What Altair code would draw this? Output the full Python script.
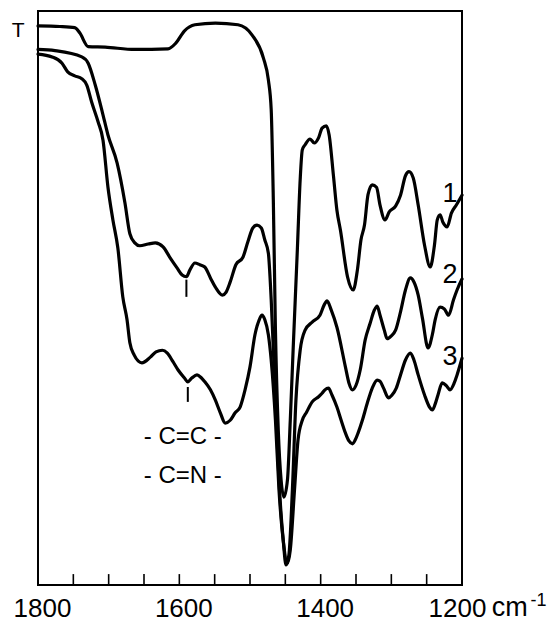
import altair as alt
import pandas as pd

# Infrared transmission spectra, wavenumber (cm-1) vs. transmittance T (arbitrary %)
wn1 = [1800, 1769, 1748, 1741, 1729, 1705, 1663, 1616, 1605, 1593,
       1578, 1549, 1517, 1497, 1481, 1474, 1470, 1467, 1464, 1460,
       1456, 1452, 1447, 1443, 1439, 1433, 1429, 1426, 1422, 1415,
       1409, 1403, 1398, 1392, 1388, 1382, 1377, 1372, 1362, 1354,
       1348, 1343, 1338, 1333, 1327, 1321, 1316, 1309, 1303, 1294,
       1287, 1280, 1275, 1269, 1262, 1253, 1245, 1239, 1235, 1231,
       1227, 1221, 1215, 1208, 1200]
t1 = [97.4, 97.3, 97.1, 96.2, 93.8, 93.7, 93.3, 93.4, 94.4, 96.5,
      97.6, 97.9, 97.6, 95.8, 91.8, 88.0, 82.8, 67.1, 44.4, 27.0,
      18.3, 15.3, 18.3, 28.7, 40.9, 58.4, 70.6, 75.8, 76.7, 77.7,
      77.0, 77.9, 79.6, 80.0, 78.4, 71.4, 65.3, 61.8, 53.7, 51.4,
      54.9, 60.1, 62.7, 68.0, 69.7, 69.3, 66.2, 63.6, 65.0, 66.0,
      67.9, 71.3, 72.0, 70.9, 66.2, 59.2, 55.4, 59.2, 63.6, 64.5,
      63.2, 62.4, 64.8, 66.2, 67.9]

wn2 = [1800, 1776, 1738, 1729, 1719, 1709, 1701, 1688, 1677, 1670,
       1663, 1656, 1644, 1634, 1623, 1613, 1603, 1596, 1590, 1585,
       1578, 1571, 1564, 1556, 1549, 1539, 1534, 1528, 1520, 1510,
       1503, 1496, 1490, 1484, 1479, 1474, 1470, 1464, 1459, 1453,
       1449, 1445, 1440, 1435, 1429, 1422, 1412, 1401, 1395, 1391,
       1385, 1377, 1365, 1360, 1355, 1350, 1344, 1337, 1330, 1324,
       1320, 1316, 1310, 1306, 1300, 1294, 1287, 1280, 1273, 1268,
       1262, 1256, 1248, 1242, 1238, 1231, 1225, 1219, 1212, 1207,
       1200]
t2 = [93.3, 93.1, 92.0, 90.9, 87.1, 82.4, 78.4, 73.5, 66.6, 61.2,
      59.6, 59.1, 59.4, 59.6, 58.9, 57.0, 55.2, 54.0, 53.7, 54.9,
      56.1, 55.8, 55.4, 53.5, 51.9, 50.5, 51.0, 52.8, 55.8, 57.1,
      59.8, 62.2, 62.7, 62.2, 60.1, 57.8, 49.7, 32.2, 18.3, 7.8,
      3.5, 5.2, 16.6, 32.2, 40.9, 44.4, 45.8, 47.0, 48.8, 49.5,
      47.9, 44.9, 38.0, 35.2, 34.0, 34.8, 37.5, 42.7, 45.6, 47.9,
      48.6, 47.0, 44.4, 42.9, 43.4, 44.4, 47.6, 51.4, 53.5, 52.8,
      50.5, 46.5, 41.3, 43.6, 46.2, 48.4, 48.1, 47.0, 49.7, 51.4,
      53.3]

wn3 = [1800, 1780, 1766, 1758, 1748, 1738, 1731, 1724, 1715, 1708,
       1701, 1694, 1687, 1680, 1674, 1670, 1664, 1658, 1653, 1641,
       1633, 1624, 1617, 1609, 1602, 1593, 1588, 1582, 1575, 1569,
       1564, 1556, 1549, 1542, 1535, 1528, 1521, 1514, 1507, 1500,
       1493, 1487, 1483, 1479, 1474, 1470, 1464, 1459, 1453, 1447,
       1443, 1437, 1432, 1426, 1420, 1412, 1403, 1398, 1394, 1389,
       1384, 1377, 1371, 1365, 1360, 1355, 1351, 1347, 1341, 1334,
       1327, 1320, 1316, 1311, 1304, 1299, 1293, 1287, 1280, 1273,
       1268, 1262, 1253, 1246, 1242, 1238, 1234, 1228, 1222, 1217,
       1211, 1207, 1200]
t3 = [92.5, 92.0, 90.9, 89.4, 88.7, 88.2, 87.1, 84.1, 80.7, 77.5,
      69.3, 63.6, 58.7, 50.2, 46.2, 42.2, 40.1, 39.0, 38.7, 39.7,
      40.6, 40.9, 40.4, 38.9, 37.5, 36.1, 35.4, 36.1, 36.6, 36.1,
      35.4, 34.0, 32.2, 30.0, 28.2, 28.7, 30.0, 31.0, 34.0, 38.0,
      43.6, 46.2, 47.0, 46.2, 43.6, 39.2, 28.7, 16.6, 7.8, 3.8,
      6.1, 16.6, 25.3, 28.7, 30.1, 31.9, 32.8, 33.4, 34.0, 34.3,
      33.1, 31.0, 28.7, 26.5, 25.1, 24.6, 25.3, 26.5, 28.7, 31.7,
      34.3, 35.7, 35.5, 34.3, 32.6, 33.1, 34.3, 36.6, 39.2, 40.4,
      39.2, 36.6, 33.1, 31.0, 30.5, 31.5, 33.1, 35.2, 34.7, 34.0,
      35.2, 36.6, 39.5]

# axis: labelled wavenumbers and the inward minor ticks
axis_labels = [1800, 1600, 1400, 1200]
minor_ticks = [1750, 1700, 1650, 1600, 1550, 1500, 1450, 1400, 1350, 1300, 1250]

# curve numbers at the right end of each trace
curve_names = ["1", "2", "3"]
curve_label_wn = [1217, 1217, 1217]
curve_label_t = [66.7, 52.6, 38.3]

# band markers under the 1590 cm-1 shoulder of traces 2 and 3
marker_wn = [1590, 1588]
marker_top = [53.2, 34.5]
marker_bottom = [50.2, 31.9]

# group assignments written under the bands
groups = ["- C=C -", "- C=N -"]
group_wn = [1595, 1595]
group_t = [24.6, 17.8]

FONT = "Liberation Sans, Arial, Helvetica, sans-serif"

rows = []
for name, wns, ts in [("1", wn1, t1), ("2", wn2, t2), ("3", wn3, t3)]:
    rows += [{"wn": w, "T": v, "curve": name} for w, v in zip(wns, ts)]
spectra = pd.DataFrame(rows)

x_scale = alt.Scale(domain=[1200, 1800], reverse=True, nice=False, zero=False)
y_scale = alt.Scale(domain=[0, 100], nice=False, zero=False)

# one shared axis definition, used by every layer so that the merged axis keeps it;
# the last label is nudged left to leave room for the unit after it
x_axis = alt.Axis(
    values=axis_labels,
    title=None,
    ticks=False,
    tickSize=0,
    domain=False,
    grid=False,
    format="d",
    labelFont=FONT,
    labelFontSize=26,
    labelColor="black",
    labelBaseline="alphabetic",
    labelPadding=31,
    labelFlush=False,
    labelOverlap=False,
    labelOffset={"condition": {"test": "datum.value === 1200", "value": -5}, "value": 4},
)


def xy(xfield, yfield):
    return dict(
        x=alt.X(xfield, scale=x_scale, axis=x_axis),
        y=alt.Y(yfield, scale=y_scale, axis=None),
    )


lines = alt.Chart(spectra).mark_line(
    color="black", strokeWidth=3.2, interpolate="monotone",
    strokeJoin="round", strokeCap="round",
).encode(detail="curve:N", **xy("wn:Q", "T:Q"))

ticks = alt.Chart(pd.DataFrame({"wn": minor_ticks, "lo": 0.0, "hi": 1.9})).mark_rule(
    color="black", strokeWidth=1.6
).encode(y2="hi:Q", **xy("wn:Q", "lo:Q"))

markers = alt.Chart(pd.DataFrame({"wn": marker_wn, "top": marker_top, "bottom": marker_bottom})).mark_rule(
    color="black", strokeWidth=2
).encode(y2="bottom:Q", **xy("wn:Q", "top:Q"))

numbers = alt.Chart(pd.DataFrame({"wn": curve_label_wn, "T": curve_label_t, "label": curve_names})).mark_text(
    font=FONT, fontSize=27, color="black", align="center", baseline="alphabetic"
).encode(text="label:N", **xy("wn:Q", "T:Q"))

group_text = alt.Chart(pd.DataFrame({"wn": group_wn, "T": group_t, "label": groups})).mark_text(
    font=FONT, fontSize=24, color="black", align="center", baseline="alphabetic"
).encode(text="label:N", **xy("wn:Q", "T:Q"))

# ordinate name and the unit of the abscissa
t_label = alt.Chart(pd.DataFrame({"wn": [1828], "T": [95.5], "label": ["T"]})).mark_text(
    font=FONT, fontSize=21, color="black", align="center", baseline="alphabetic"
).encode(text="label:N", **xy("wn:Q", "T:Q"))

unit = alt.Chart(pd.DataFrame({"wn": [1158], "T": [-5.4], "label": ["cm"]})).mark_text(
    font=FONT, fontSize=27, color="black", align="left", baseline="alphabetic"
).encode(text="label:N", **xy("wn:Q", "T:Q"))

unit_power = alt.Chart(pd.DataFrame({"wn": [1103], "T": [-3.6], "label": ["-1"]})).mark_text(
    font=FONT, fontSize=18, color="black", align="left", baseline="alphabetic"
).encode(text="label:N", **xy("wn:Q", "T:Q"))

chart = alt.layer(
    lines, ticks, markers, numbers, group_text, t_label, unit, unit_power
).properties(
    width=424,
    height=574,
    autosize=alt.AutoSizeParams(type="none"),
    padding={"left": 38, "top": 11, "right": 89, "bottom": 36},
    background="white",
).configure_view(
    stroke="black",
    strokeWidth=2,
)

chart.save("out.html", embed_options={"renderer": "svg", "actions": False})
